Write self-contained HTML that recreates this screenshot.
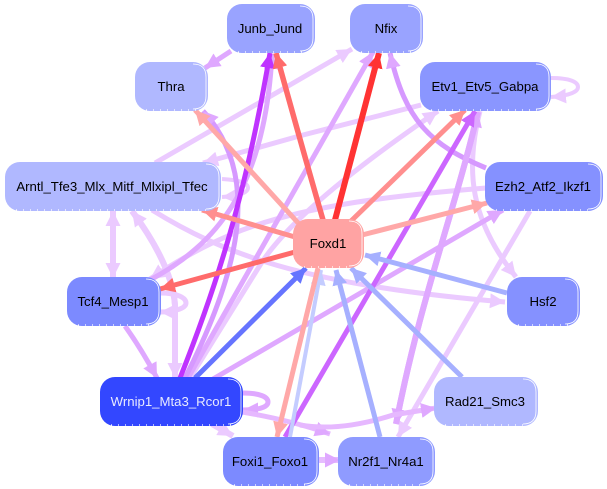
<!DOCTYPE html>
<html><head><meta charset="utf-8"><style>
html,body{margin:0;padding:0;background:#fff}
svg{display:block}
text{font-family:"Liberation Sans",sans-serif;font-size:13.2px;text-anchor:middle;fill:#000}
.e{fill:none;stroke-linecap:butt}
.w{fill:none;stroke:#fff;stroke-width:.8}
.d{stroke:#fff;stroke-width:1.2;stroke-dasharray:1 6}
</style></head><body>
<svg width="607" height="489" viewBox="0 0 607 489" xmlns="http://www.w3.org/2000/svg">
<defs>
<marker id="a1" markerUnits="userSpaceOnUse" viewBox="0 0 12 12" refX="12" refY="6" markerWidth="15" markerHeight="15" orient="auto"><path d="M0 0L12 6L0 12Z" fill="#ebcaff"/></marker>
<marker id="a2" markerUnits="userSpaceOnUse" viewBox="0 0 12 12" refX="12" refY="6" markerWidth="15" markerHeight="15" orient="auto"><path d="M0 0L12 6L0 12Z" fill="#dfa8ff"/></marker>
<marker id="a3" markerUnits="userSpaceOnUse" viewBox="0 0 12 12" refX="12" refY="6" markerWidth="15" markerHeight="15" orient="auto"><path d="M0 0L12 6L0 12Z" fill="#bf33ff"/></marker>
<marker id="a4" markerUnits="userSpaceOnUse" viewBox="0 0 12 12" refX="12" refY="6" markerWidth="15" markerHeight="15" orient="auto"><path d="M0 0L12 6L0 12Z" fill="#cc66ff"/></marker>
<marker id="r1" markerUnits="userSpaceOnUse" viewBox="0 0 12 12" refX="12" refY="6" markerWidth="15" markerHeight="15" orient="auto"><path d="M0 0L12 6L0 12Z" fill="#ff3333"/></marker>
<marker id="r2" markerUnits="userSpaceOnUse" viewBox="0 0 12 12" refX="12" refY="6" markerWidth="15" markerHeight="15" orient="auto"><path d="M0 0L12 6L0 12Z" fill="#ff6b6b"/></marker>
<marker id="r3" markerUnits="userSpaceOnUse" viewBox="0 0 12 12" refX="12" refY="6" markerWidth="15" markerHeight="15" orient="auto"><path d="M0 0L12 6L0 12Z" fill="#ff8f8f"/></marker>
<marker id="r4" markerUnits="userSpaceOnUse" viewBox="0 0 12 12" refX="12" refY="6" markerWidth="15" markerHeight="15" orient="auto"><path d="M0 0L12 6L0 12Z" fill="#ffa8a8"/></marker>
<marker id="b1" markerUnits="userSpaceOnUse" viewBox="0 0 12 12" refX="12" refY="6" markerWidth="15" markerHeight="15" orient="auto"><path d="M0 0L12 6L0 12Z" fill="#6674ff"/></marker>
<marker id="b2" markerUnits="userSpaceOnUse" viewBox="0 0 12 12" refX="12" refY="6" markerWidth="15" markerHeight="15" orient="auto"><path d="M0 0L12 6L0 12Z" fill="#a6b0ff"/></marker>
<marker id="b3" markerUnits="userSpaceOnUse" viewBox="0 0 12 12" refX="12" refY="6" markerWidth="15" markerHeight="15" orient="auto"><path d="M0 0L12 6L0 12Z" fill="#c4ccff"/></marker>
</defs>

<g class="edges">
<path class="e" d="M231 51L205 68" stroke="#dfa8ff" stroke-width="5" marker-end="url(#a2)"/>
<path class="e" d="M155 163L352 49" stroke="#ebcaff" stroke-width="5" marker-end="url(#a1)"/>
<path class="e" d="M421 105L303 135L203 163" stroke="#ebcaff" stroke-width="5" marker-end="url(#a1)"/>
<path class="e" d="M190 378L262 262Q300 205 438 111" stroke="#ebcaff" stroke-width="5" marker-end="url(#a1)"/>
<path class="e" d="M486 188C400 195 300 205 230 235Q190 252 150 279" stroke="#ebcaff" stroke-width="5" marker-end="url(#a1)"/>
<path class="e" d="M152 210C220 252 300 285 505 302" stroke="#ebcaff" stroke-width="5" marker-end="url(#a1)"/>
<path class="e" d="M530 211L398 437" stroke="#ebcaff" stroke-width="5" marker-end="url(#a1)"/>
<path class="e" d="M480 111C465 170 470 220 516 277" stroke="#ebcaff" stroke-width="5" marker-end="url(#a1)"/>
<path class="e" d="M551 78C570 78 578 82 578 87C578 93 565 96 551 97" stroke="#ebcaff" stroke-width="4" marker-end="url(#a1)"/>
<path class="e" d="M222 179C240 180 248 183 248 188C248 193 238 196 222 197" stroke="#ebcaff" stroke-width="4" marker-end="url(#a1)"/>
<path class="e" d="M113 277L113 211" stroke="#ebcaff" stroke-width="6" marker-end="url(#a1)"/>
<path class="e" d="M113 211L113 278" stroke="#ebcaff" stroke-width="6" marker-end="url(#a1)"/>
<path class="e" d="M175 378L175 305Q172 265 132 211" stroke="#ebcaff" stroke-width="6" marker-end="url(#a1)"/>
<path class="e" d="M132 211Q172 265 175 305L175 378" stroke="#ebcaff" stroke-width="6" marker-end="url(#a1)"/>
<path class="e" d="M212 424L233 436" stroke="#ebcaff" stroke-width="6" marker-end="url(#a1)"/>
<path class="e" d="M318 460L340 460" stroke="#e6bcff" stroke-width="6" marker-end="url(#a2)"/>

<path class="e" d="M150 280C215 245 265 190 272 54" stroke="#dfa8ff" stroke-width="5" marker-end="url(#a2)"/>
<path class="e" d="M188 378L373 52" stroke="#dfa8ff" stroke-width="5" marker-end="url(#a2)"/>
<path class="e" d="M486 168C430 145 405 120 390 53" stroke="#d699ff" stroke-width="5" marker-end="url(#a2)"/>
<path class="e" d="M185 378C240 270 262 175 203 111" stroke="#d699ff" stroke-width="5" marker-end="url(#a2)"/>
<path class="e" d="M396 424C420 300 455 210 478 112" stroke="#dfa8ff" stroke-width="6" marker-end="url(#a2)"/>
<path class="e" d="M478 112C455 210 420 300 396 424" stroke="#dfa8ff" stroke-width="6" marker-end="url(#a2)"/>
<path class="e" d="M213 379L503 210" stroke="#dfa8ff" stroke-width="5" marker-end="url(#a2)"/>
<path class="e" d="M125 326Q142 350 157 378" stroke="#dfa8ff" stroke-width="5" marker-end="url(#a2)"/>
<path class="e" d="M160 293C178 293 186 298 186 303C186 309 172 312 160 312" stroke="#ebcaff" stroke-width="5" marker-end="url(#a1)"/>
<path class="e" d="M243 393C260 393 268 397 268 402C268 408 256 410 243 410" stroke="#dfa8ff" stroke-width="5" marker-end="url(#a2)"/>
<path class="e" d="M242 412Q290 420 330 434" stroke="#e6b8ff" stroke-width="5" marker-end="url(#a2)"/>
<path class="e" d="M300 425Q340 432 393 415L436 408" stroke="#e6b8ff" stroke-width="5" marker-end="url(#a2)"/>

<path class="e" d="M180 378C215 290 245 200 270 53" stroke="#bf33ff" stroke-width="5" marker-end="url(#a3)"/>
<path class="e" d="M285 437L475 111" stroke="#cc66ff" stroke-width="5" marker-end="url(#a4)"/>
<path class="e" d="M323 220Q300 140 276 53" stroke="#ff6b6b" stroke-width="5.5" marker-end="url(#r2)"/>
<path class="e" d="M335 220L379 53" stroke="#ff3333" stroke-width="6" marker-end="url(#r1)"/>
<path class="e" d="M300 225L195 110" stroke="#ffa8a8" stroke-width="5" marker-end="url(#r4)"/>
<path class="e" d="M350 222L465 110" stroke="#ff8f8f" stroke-width="5" marker-end="url(#r3)"/>
<path class="e" d="M362 235L487 203" stroke="#ffa8a8" stroke-width="5" marker-end="url(#r4)"/>
<path class="e" d="M295 237L202 210" stroke="#ff8f8f" stroke-width="5" marker-end="url(#r3)"/>
<path class="e" d="M295 252L160 289" stroke="#ff6b6b" stroke-width="5" marker-end="url(#r2)"/>
<path class="e" d="M290 437L321 270" stroke="#c4ccff" stroke-width="4" marker-end="url(#b3)"/>
<path class="e" d="M318 268L277 437" stroke="#ffa8a8" stroke-width="5" marker-end="url(#r4)"/>
<path class="e" d="M195 378L306 268" stroke="#6674ff" stroke-width="5" marker-end="url(#b1)"/>
<path class="e" d="M380 437L336 270" stroke="#a6b0ff" stroke-width="5" marker-end="url(#b2)"/>
<path class="e" d="M462 377L351 268" stroke="#a6b0ff" stroke-width="5" marker-end="url(#b2)"/>
<path class="e" d="M507 293L365 255" stroke="#a6b0ff" stroke-width="5" marker-end="url(#b2)"/>
</g>

<g class="nodes">
<rect x="227" y="4" width="88" height="49" rx="15" fill="#99a3ff"/>
<path class="w" d="M300 6Q313 6 313 19V38Q313 51 300 51"/><path class="d" d="M238 52H304"/>
<text x="270" y="33">Junb_Jund</text>

<rect x="135" y="62" width="73" height="49" rx="15" fill="#b0b8ff"/>
<path class="w" d="M193 64Q206 64 206 77V96Q206 109 193 109"/><path class="d" d="M146 110H197"/>
<text x="171" y="91">Thra</text>

<rect x="350" y="4" width="73" height="49" rx="15" fill="#99a3ff"/>
<path class="w" d="M408 6Q421 6 421 19V38Q421 51 408 51"/><path class="d" d="M361 52H412"/>
<text x="386" y="33">Nfix</text>

<rect x="420" y="62" width="131" height="49" rx="15" fill="#8a96ff"/>
<path class="w" d="M536 64Q549 64 549 77V96Q549 109 536 109"/><path class="d" d="M431 110H540"/>
<text x="485" y="91">Etv1_Etv5_Gabpa</text>

<rect x="5" y="162" width="216" height="49" rx="15" fill="#b0b8ff"/>
<path class="w" d="M206 164Q219 164 219 177V196Q219 209 206 209"/><path class="d" d="M16 210H210"/>
<text x="112" y="191">Arntl_Tfe3_Mlx_Mitf_Mlxipl_Tfec</text>

<rect x="485" y="162" width="118" height="49" rx="15" fill="#8591ff"/>
<path class="w" d="M588 164Q601 164 601 177V196Q601 209 588 209"/><path class="d" d="M496 210H592"/>
<text x="543" y="191">Ezh2_Atf2_Ikzf1</text>

<rect x="293" y="219" width="71" height="49" rx="15" fill="#ffa3a3"/>
<path class="w" d="M349 221Q362 221 362 234V253Q362 266 349 266"/><path class="d" d="M304 267H353"/>
<text x="328" y="248">Foxd1</text>

<rect x="67" y="277" width="94" height="49" rx="15" fill="#7c8aff"/>
<path class="w" d="M146 279Q159 279 159 292V311Q159 324 146 324"/><path class="d" d="M78 325H150"/>
<text x="113" y="306">Tcf4_Mesp1</text>

<rect x="507" y="277" width="73" height="49" rx="15" fill="#8591ff"/>
<path class="w" d="M565 279Q578 279 578 292V311Q578 324 565 324"/><path class="d" d="M518 325H569"/>
<text x="543" y="306">Hsf2</text>

<rect x="100" y="377" width="143" height="49" rx="15" fill="#3347ff"/>
<path class="w" d="M228 379Q241 379 241 392V411Q241 424 228 424"/><path class="d" d="M111 425H232"/>
<text x="171" y="406" style="fill:#e8eaff">Wrnip1_Mta3_Rcor1</text>

<rect x="434" y="377" width="104" height="49" rx="15" fill="#b0b8ff"/>
<path class="w" d="M523 379Q536 379 536 392V411Q536 424 523 424"/><path class="d" d="M445 425H527"/>
<text x="485" y="406">Rad21_Smc3</text>

<rect x="223" y="437" width="96" height="49" rx="15" fill="#7c8aff"/>
<path class="w" d="M304 439Q317 439 317 452V471Q317 484 304 484"/><path class="d" d="M234 485H308"/>
<text x="270" y="466">Foxi1_Foxo1</text>

<rect x="338" y="437" width="97" height="49" rx="15" fill="#8f9bff"/>
<path class="w" d="M420 439Q433 439 433 452V471Q433 484 420 484"/><path class="d" d="M349 485H424"/>
<text x="386" y="466">Nr2f1_Nr4a1</text>
</g>
</svg>
</body></html>
